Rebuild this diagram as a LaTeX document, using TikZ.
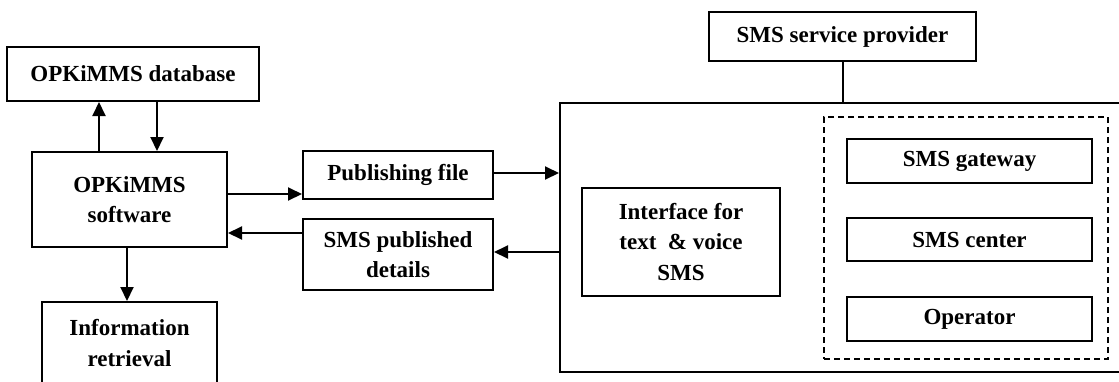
\documentclass[tikz,border=0pt]{standalone}
\usepackage{fontspec}
\setmainfont{Liberation Serif}
\usetikzlibrary{arrows.meta}
\begin{document}
\begin{tikzpicture}[x=1pt,y=-1pt,
  box/.style={draw, line width=2pt, inner sep=0pt, align=center,
    font=\bfseries\fontsize{23}{30.5}\selectfont},
  arr/.style={line width=2pt, -{Triangle[length=14pt,width=13pt]}},
  ln/.style={line width=2pt}]
\clip (0,0) rectangle (1119,381);
\fill[white] (0,0) rectangle (1119,381);
\node[box, minimum width=252, minimum height=54] (db) at (133,74) {OPKiMMS database};
\node[box, minimum width=195, minimum height=95] (sw) at (129.5,199.5) {OPKiMMS\\software};
\node[box, minimum width=175, minimum height=82] (ir) at (129.5,343) {Information\\retrieval};
\node[box, minimum width=190, minimum height=48] (pf) at (398,175) {Publishing file};
\node[box, minimum width=190, minimum height=71] (spd) at (398,254.5) {SMS published\\details};
\node[box, minimum width=580, minimum height=269] (big) at (850,237.5) {};
\node[box, minimum width=198, minimum height=108] (iface) at (681,242) {Interface for\\text~ \& voice\\SMS};
\node[box, minimum width=267, minimum height=49] (ssp) at (842.5,36.5) {SMS service provider};
\node[draw, dash pattern=on 6pt off 4pt, line width=2pt, minimum width=284, minimum height=242, inner sep=0pt] (grp) at (966,238) {};
\node[box, minimum width=245, minimum height=44] (gw) at (969.5,161) {SMS gateway};
\node[box, minimum width=245, minimum height=43] (ctr) at (969.5,239.5) {SMS center};
\node[box, minimum width=245, minimum height=44] (op) at (969.5,319) {Operator};
% connectors
\draw[arr] ([xshift=-30.5pt]sw.north) -- ([xshift=-30.5pt]sw.north |- db.south);
\draw[arr] ([xshift=27.5pt]db.south -| sw.north) -- ([xshift=27.5pt]sw.north);
\draw[arr] ([xshift=-2.5pt]sw.south) -- ([xshift=-2.5pt]sw.south |- ir.north);
\draw[arr] ([yshift=5.5pt]sw.east) -- ([yshift=5.5pt]sw.east -| pf.west);
\draw[arr] ([yshift=-33.5pt]sw.east -| spd.west) -- ([yshift=-33.5pt]sw.east);
\draw[arr] ([yshift=2pt]pf.east) -- ([yshift=2pt]pf.east -| big.west);
\draw[arr] ([yshift=2.5pt]spd.east -| big.west) -- ([yshift=2.5pt]spd.east);
\draw[ln] (ssp.south) -- (ssp.south |- big.north);
\end{tikzpicture}
\end{document}
